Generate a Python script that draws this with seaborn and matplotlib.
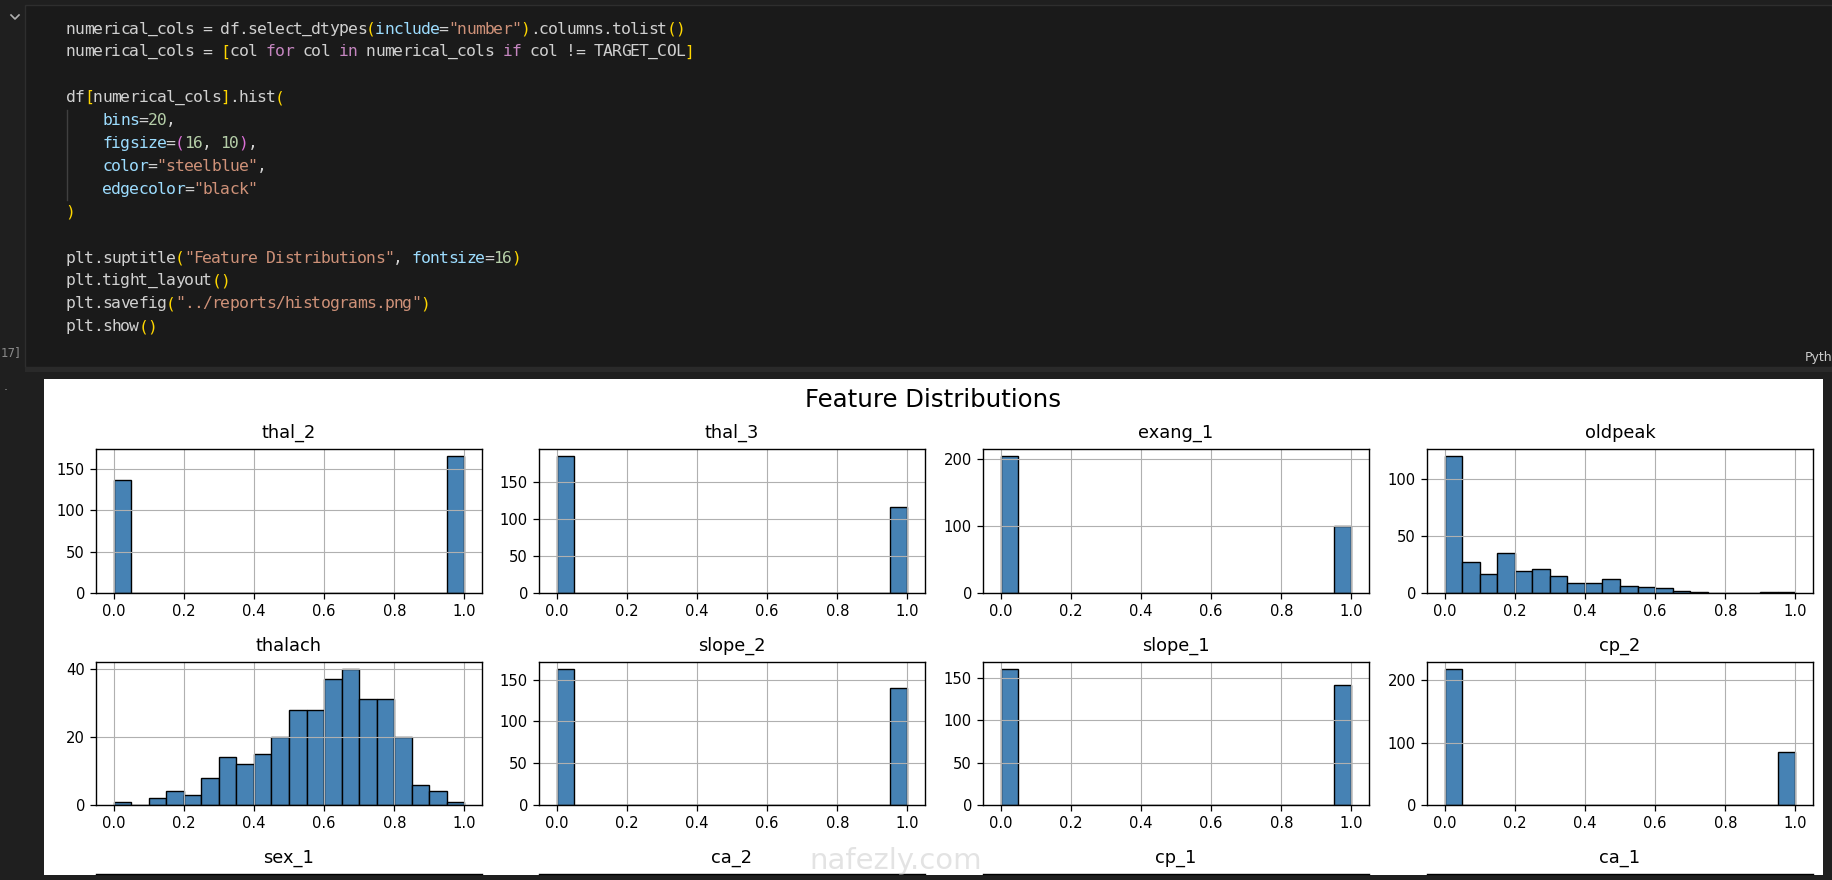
import numpy as np
import matplotlib
matplotlib.use("Agg")
import matplotlib.pyplot as plt
from matplotlib.patches import Rectangle
from matplotlib.lines import Line2D
import seaborn as sns

# values (20 bins on a 0..1 scale)
binary_values = [0, 1]
thal_2_counts = [137, 166]
thal_3_counts = [186, 117]
exang_1_counts = [204, 99]
slope_2_counts = [163, 140]
slope_1_counts = [161, 142]
cp_2_counts = [218, 85]
oldpeak_counts = [120, 27, 17, 35, 19, 21, 15, 9, 9, 12, 6, 5, 4, 2, 1, 0, 0, 0, 1, 1]
thalach_counts = [1, 0, 2, 4, 3, 8, 14, 12, 15, 20, 28, 28, 37, 40, 31, 31, 20, 6, 4, 1]

row1_titles = ["thal_2", "thal_3", "exang_1", "oldpeak"]
row2_titles = ["thalach", "slope_2", "slope_1", "cp_2"]
row3_titles = ["sex_1", "ca_2", "cp_1", "ca_1"]
x_ticks = [0.0, 0.2, 0.4, 0.6, 0.8, 1.0]

suptitle = "Feature Distributions"
cell_label = "17]"
kernel_label = "Pyth"
watermark = "nafezly.com"

code_lines = [
    [("numerical_cols", "var"), (" = ", "op"), ("df", "var"), (".", "op"),
     ("select_dtypes", "var"), ("(", "b1"), ("include", "kw"), ("=", "op"),
     ('"number"', "str"), (")", "b1"), (".columns.tolist", "var"), ("()", "b1")],
    [("numerical_cols", "var"), (" = ", "op"), ("[", "b1"), ("col ", "var"),
     ("for", "ctl"), (" col ", "var"), ("in", "ctl"), (" numerical_cols ", "var"),
     ("if", "ctl"), (" col != TARGET_COL", "var"), ("]", "b1")],
    [],
    [("df", "var"), ("[", "b1"), ("numerical_cols", "var"), ("]", "b1"),
     (".hist", "var"), ("(", "b1")],
    [("    ", "op"), ("bins", "kw"), ("=", "op"), ("20", "num"), (",", "op")],
    [("    ", "op"), ("figsize", "kw"), ("=", "op"), ("(", "b2"), ("16", "num"),
     (", ", "op"), ("10", "num"), (")", "b2"), (",", "op")],
    [("    ", "op"), ("color", "kw"), ("=", "op"), ('"steelblue"', "str"), (",", "op")],
    [("    ", "op"), ("edgecolor", "kw"), ("=", "op"), ('"black"', "str")],
    [(")", "b1")],
    [],
    [("plt.suptitle", "var"), ("(", "b1"), ('"Feature Distributions"', "str"),
     (", ", "op"), ("fontsize", "kw"), ("=", "op"), ("16", "num"), (")", "b1")],
    [("plt.tight_layout", "var"), ("()", "b1")],
    [("plt.savefig", "var"), ("(", "b1"), ('"../reports/histograms.png"', "str"), (")", "b1")],
    [("plt.show", "var"), ("()", "b1")],
]
code_colors = {"var": "#d0d0d0", "op": "#d0d0d0", "kw": "#9cdcfe", "str": "#ce9178",
               "ctl": "#c586c0", "num": "#b5cea8", "b1": "#ffd700", "b2": "#da70d6"}

W, H = 1832, 880


def fx(x):
    return x / W


def fy(y):
    return 1 - y / H


def rect(left, top, width, height):
    return [fx(left), fy(top + height), width / W, height / H]


fig = plt.figure(figsize=(W / 100, H / 100), dpi=100, facecolor="#1f1f1f")

# notebook chrome
fig.add_artist(Rectangle((fx(25), fy(367)), (W - 25) / W, 362 / H, transform=fig.transFigure,
                         facecolor="#1a1a1a", edgecolor="#2e2e2e", lw=1, zorder=-5))
fig.add_artist(Rectangle((fx(25), fy(372)), (W - 25) / W, 5 / H, transform=fig.transFigure,
                         facecolor="#2a2a2a", lw=0, zorder=-5))
fig.add_artist(Rectangle((fx(44), fy(875)), (1823 - 44) / W, (875 - 379) / H,
                         transform=fig.transFigure, facecolor="white", lw=0, zorder=-4))
fig.add_artist(Line2D([fx(11), fx(15), fx(19)], [fy(15), fy(19), fy(15)],
                      transform=fig.transFigure, color="#b0b0b0", lw=1.2))
fig.add_artist(Line2D([fx(67), fx(67)], [fy(110), fy(200)], transform=fig.transFigure,
                      color="#404040", lw=1))

# code cell: one glyph per column so a taller font keeps the narrow pitch
char_w = 9.1
for i, tokens in enumerate(code_lines):
    y = 29 + 22.9 * i
    col = 0
    for text, role in tokens:
        for ch in text:
            if ch != " ":
                fig.text(fx(66 + col * char_w + char_w / 2), fy(y), ch,
                         family="DejaVu Sans Mono", fontsize=11.8,
                         color=code_colors[role], va="center", ha="center")
            col += 1

fig.text(fx(1), fy(353), cell_label, fontsize=8.5, color="#8b8b8b", va="center")
fig.text(fx(1805), fy(358), kernel_label, fontsize=9, color="#cccccc", va="center")
fig.text(fx(4), fy(386), ".", fontsize=9, color="#9a9a9a", va="center")

fig.text(fx(933), fy(400), suptitle, fontsize=17.6, ha="center", va="center", color="black")

plt.rcParams["axes.axisbelow"] = "line"
lefts = [96, 539, 983, 1427]
bin_grid = np.arange(20) / 20 + 0.025

row1 = [(binary_values, thal_2_counts), (binary_values, thal_3_counts),
        (binary_values, exang_1_counts), (bin_grid, oldpeak_counts)]
row2 = [(bin_grid, thalach_counts), (binary_values, slope_2_counts),
        (binary_values, slope_1_counts), (binary_values, cp_2_counts)]

for top, height, titles, panels in [(449, 144, row1_titles, row1), (662, 143, row2_titles, row2)]:
    for left, title, (vals, counts) in zip(lefts, titles, panels):
        ax = fig.add_axes(rect(left, top, 386, height))
        sns.histplot(x=vals, weights=counts, bins=20, binrange=(0, 1), color="steelblue",
                     edgecolor="black", linewidth=1.0, alpha=1, ax=ax)
        ax.set_xlim(-0.05, 1.05)
        ax.set_ylim(0, max(counts) * 1.05)
        ax.set_xticks(x_ticks)
        ax.set(xlabel="", ylabel="")
        ax.grid(True, color="#b0b0b0", linewidth=0.8)
        ax.set_axisbelow("line")
        ax.set_title(title, fontsize=12.8, pad=8)
        ax.tick_params(labelsize=10.6, length=4.5, width=0.9)
        for s in ax.spines.values():
            s.set_linewidth(1.0)
            s.set_color("black")

# third row: only titles and top edges are visible in the screenshot
for left, title in zip(lefts, row3_titles):
    ax = fig.add_axes(rect(left, 874, 386, 144))
    ax.set_facecolor("none")
    for side in ["left", "right", "bottom"]:
        ax.spines[side].set_visible(False)
    ax.spines["top"].set_linewidth(1.0)
    ax.set_xticks([])
    ax.set_yticks([])
    ax.set_title(title, fontsize=12.8, pad=8)

fig.text(fx(896), fy(861), watermark, fontsize=21, color="#c8c8c8", alpha=0.5,
         ha="center", va="center")

fig.savefig("out.png", dpi=100, facecolor=fig.get_facecolor())
